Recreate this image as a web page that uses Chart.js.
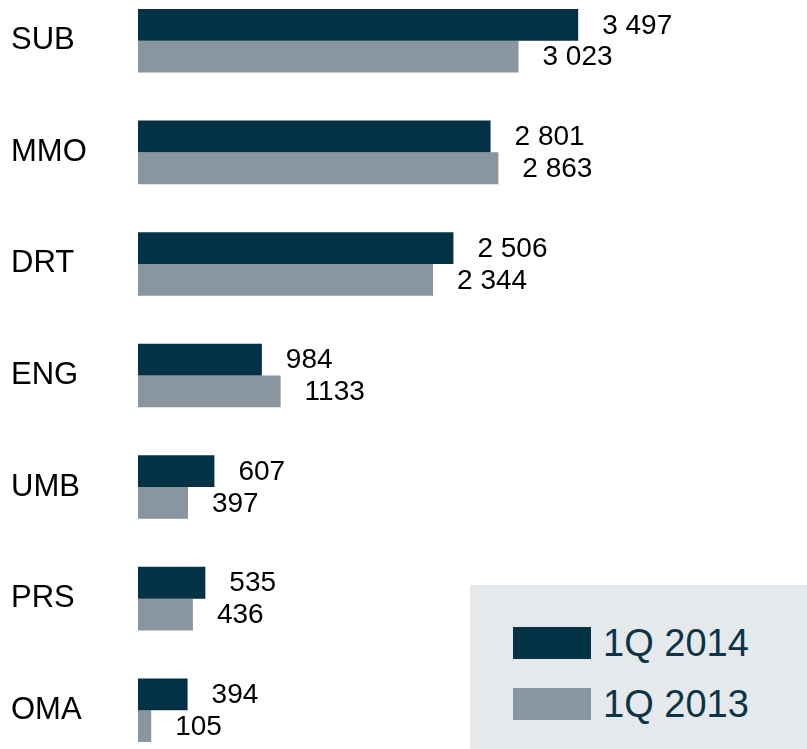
<!DOCTYPE html>
<html>
<head>
<meta charset="utf-8">
<script src="https://cdn.jsdelivr.net/npm/chart.js@4.4.1/dist/chart.umd.min.js"></script>
<style>
  html, body { margin: 0; padding: 0; background: #fff; overflow: hidden; }
  body { width: 807px; height: 749px; position: relative; font-family: Arial, "Liberation Sans", sans-serif; }
  #chart { position: absolute; left: 0; top: -15px; }
  #legend {
    position: absolute; left: 470px; top: 585px; width: 337px; height: 164px;
    background: #e5e9ec;
  }
  .item { position: absolute; left: 43px; height: 32px; white-space: nowrap; }
  .swatch { position: absolute; left: 0; top: 0; width: 78px; height: 32px; }
  .text { position: absolute; left: 90px; top: 0; line-height: 32px; font-size: 38px; color: #0b3446; }
</style>
</head>
<body>
<canvas id="chart" width="807" height="781"></canvas>
<div id="legend"></div>
<script>
const categories = ["SUB", "MMO", "DRT", "ENG", "UMB", "PRS", "OMA"];
const seriesNames = ["1Q 2014", "1Q 2013"];
const values2014 = [3497, 2801, 2506, 984, 607, 535, 394];
const values2013 = [3023, 2863, 2344, 1133, 397, 436, 105];
// labels as printed next to the bars
const labels2014 = ["3 497", "2 801", "2 506", "984", "607", "535", "394"];
const labels2013 = ["3 023", "2 863", "2 344", "1133", "397", "436", "105"];

const colors = ["#033145", "#8a969f"];

// draw the value next to the end of each bar
const valueLabels = {
  id: "valueLabels",
  afterDatasetsDraw(chart) {
    const ctx = chart.ctx;
    const texts = [labels2014, labels2013];
    ctx.save();
    ctx.font = "28px Arial, 'Liberation Sans', sans-serif";
    ctx.fillStyle = "#000";
    ctx.textAlign = "left";
    ctx.textBaseline = "middle";
    chart.data.datasets.forEach((ds, i) => {
      const meta = chart.getDatasetMeta(i);
      meta.data.forEach((bar, j) => {
        ctx.fillText(texts[i][j], bar.x + 24, bar.y + 1);
      });
    });
    ctx.restore();
  },
};

const chart = new Chart(document.getElementById("chart"), {
  type: "bar",
  data: {
    labels: categories,
    datasets: [
      {
        label: seriesNames[0],
        data: values2014,
        backgroundColor: colors[0],
      },
      {
        label: seriesNames[1],
        data: values2013,
        backgroundColor: colors[1],
      },
    ],
  },
  options: {
    indexAxis: "y",
    responsive: false,
    animation: false,
    devicePixelRatio: 1,
    layout: { padding: { left: 11, right: 0, top: 0, bottom: 0 } },
    datasets: {
      bar: { barPercentage: 1, categoryPercentage: 0.57, borderWidth: 0 },
    },
    scales: {
      x: { display: false, min: 0, max: 5315 },
      y: {
        grid: { display: false },
        border: { display: false },
        ticks: {
          color: "#000",
          crossAlign: "far",
          padding: 0,
          font: { size: 31, family: "Arial, 'Liberation Sans', sans-serif" },
        },
        afterFit(scale) {
          scale.width = 127;
          scale.paddingTop = 0;
          scale.paddingBottom = 0;
        },
      },
    },
    plugins: {
      legend: { display: false },
      tooltip: { enabled: false },
    },
  },
  plugins: [valueLabels],
});

// html legend from the chart datasets
const legend = document.getElementById("legend");
const tops = [42, 103];
chart.data.datasets.forEach((ds, i) => {
  const item = document.createElement("div");
  item.className = "item";
  item.style.top = tops[i] + "px";
  item.innerHTML =
    '<span class="swatch" style="background:' + ds.backgroundColor + '"></span>' +
    '<span class="text">' + ds.label + "</span>";
  legend.appendChild(item);
});
</script>
</body>
</html>
